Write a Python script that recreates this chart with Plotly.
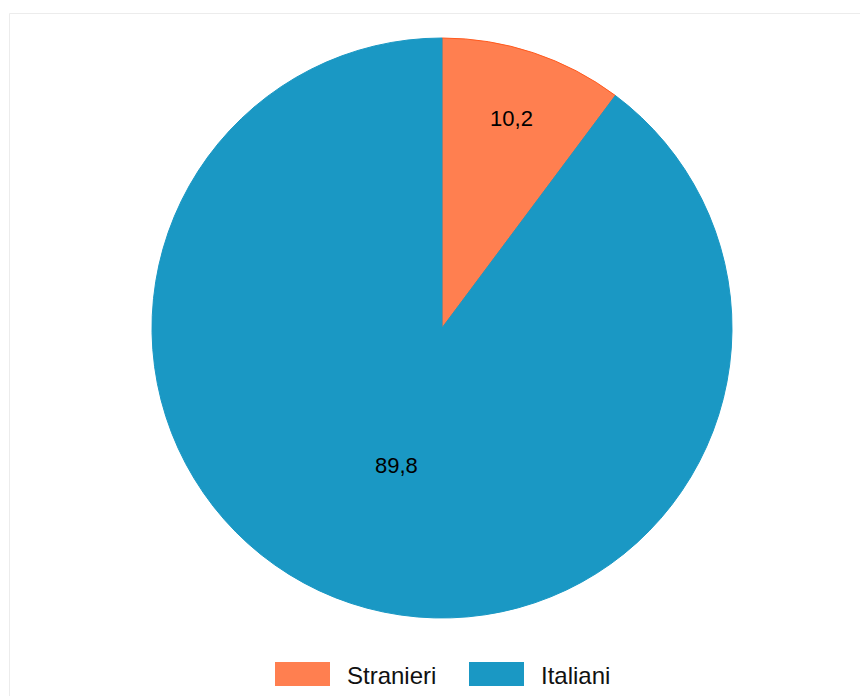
import plotly.graph_objects as go

# Quota di popolazione: stranieri vs italiani (%)
categories = ["Stranieri", "Italiani"]
values = [10.2, 89.8]
slice_colors = ["#FF7F50", "#1A98C4"]
edge_colors = ["#FF5A1E", "#1A98C4"]

W, H = 860, 696
labels_txt = [f"{v:.1f}".replace(".", ",") for v in values]

fig = go.Figure(
    go.Pie(
        labels=categories,
        values=values,
        text=labels_txt,
        textinfo="text",
        textposition="inside",
        insidetextorientation="horizontal",
        textfont=dict(family="Liberation Sans, Arial, sans-serif", size=22, color="#000000"),
        marker=dict(colors=slice_colors, line=dict(color=edge_colors, width=1)),
        sort=False,
        direction="clockwise",
        rotation=0,
        showlegend=False,
        hoverinfo="label+percent",
        domain=dict(x=[24 / W, 1], y=[1 - 618 / H, 1 - 38 / H]),
    )
)

# Thin light frame around the chart area
shapes = [
    dict(
        type="rect", xref="paper", yref="paper",
        x0=9.5 / W, x1=1.02, y0=-0.02, y1=1 - 13.5 / H,
        line=dict(color="#ECECEC", width=1), fillcolor="rgba(0,0,0,0)", layer="below",
    )
]

# Legend built from the category list: wide colour swatches with labels
annotations = []
legend_x = [275, 469]
for name, col, x0 in zip(categories, slice_colors, legend_x):
    shapes.append(
        dict(
            type="rect", xref="paper", yref="paper",
            x0=x0 / W, x1=(x0 + 55) / W, y0=1 - 686 / H, y1=1 - 662 / H,
            line=dict(width=0), fillcolor=col,
        )
    )
    annotations.append(
        dict(
            xref="paper", yref="paper", x=(x0 + 70) / W, y=1 - 675 / H,
            xanchor="left", yanchor="middle", text=name, showarrow=False,
            font=dict(family="Liberation Sans, Arial, sans-serif", size=24, color="#111111"),
        )
    )

fig.update_layout(
    width=W, height=H,
    margin=dict(l=0, r=0, t=0, b=0),
    paper_bgcolor="#FFFFFF",
    plot_bgcolor="#FFFFFF",
    shapes=shapes,
    annotations=annotations,
)

fig.write_html("out.html")
